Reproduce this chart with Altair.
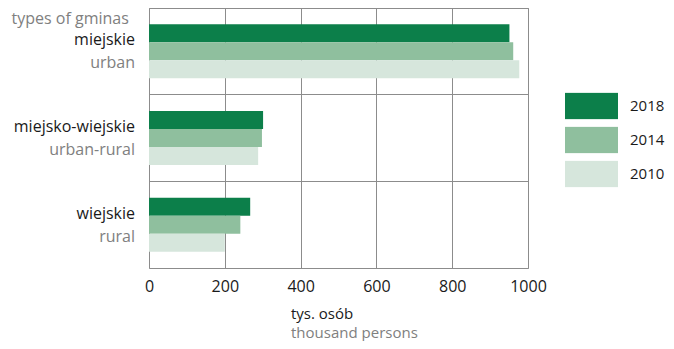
import altair as alt
import pandas as pd

FONT = "Open Sans"
BLACK = "#1a1a1a"
GREY = "#808080"
LINE = "#8c8c8c"

categories_pl = ["miejskie", "miejsko-wiejskie", "wiejskie"]
categories_en = ["urban", "urban-rural", "rural"]
years = ["2018", "2014", "2010"]
values_2018 = [951, 301, 267]
values_2014 = [961, 298, 241]
values_2010 = [977, 288, 200]
colors = ["#0c7f4a", "#8fbf9e", "#d6e6dc"]
x_ticks = [0, 200, 400, 600, 800, 1000]

series = {"2018": values_2018, "2014": values_2014, "2010": values_2010}
rows = []
for yr in years:
    for cat, v in zip(categories_pl, series[yr]):
        rows.append({"category": cat, "year": yr, "value": v})
df = pd.DataFrame(rows)
df_lab = pd.DataFrame({"category": categories_pl, "pl": categories_pl, "en": categories_en})

y_enc = alt.Y(
    "category:N",
    sort=categories_pl,
    scale=alt.Scale(paddingInner=0, paddingOuter=0),
    title="types of gminas",
    axis=alt.Axis(
        labels=False, ticks=False, domain=False, grid=True, bandPosition=0,
        gridColor=LINE, gridOpacity=1, gridWidth=1,
        titleAngle=0, titleAlign="left", titleBaseline="alphabetic",
        titleX=-138, titleY=15, titleFont=FONT, titleFontSize=16,
        titleFontWeight="normal", titleColor=GREY,
    ),
)

bars = alt.Chart(df).mark_bar().encode(
    x=alt.X(
        "value:Q",
        scale=alt.Scale(domain=[0, 1000], nice=False),
        title=None,
        axis=alt.Axis(
            values=x_ticks, format="d", grid=True, gridColor=LINE, gridOpacity=1,
            domain=False, ticks=False, labelFont=FONT, labelFontSize=16,
            labelColor=BLACK, labelPadding=10, labelFlush=False,
        ),
    ),
    y=y_enc,
    yOffset=alt.YOffset("year:N", sort=years, scale=alt.Scale(paddingInner=0, paddingOuter=0.907)),
    color=alt.Color(
        "year:N",
        sort=years,
        scale=alt.Scale(domain=years, range=colors),
        legend=alt.Legend(
            title=None, orient="none", legendX=416, legendY=84.5, padding=0,
            symbolType="M-1,-0.5H1V0.5H-1Z", symbolSize=2809, symbolStrokeWidth=0,
            symbolOpacity=1, labelFont=FONT, labelFontSize=15, labelColor=BLACK,
            labelOffset=12, rowPadding=7, clipHeight=27,
        ),
    ),
)

labels_pl = alt.Chart(df_lab).mark_text(
    align="right", baseline="alphabetic", dy=-6, font=FONT, fontSize=16, color=BLACK
).encode(x=alt.value(-14), y=y_enc, text="pl:N")

labels_en = alt.Chart(df_lab).mark_text(
    align="right", baseline="alphabetic", dy=17, font=FONT, fontSize=16, color=GREY
).encode(x=alt.value(-14), y=y_enc, text="en:N")

chart = alt.layer(bars, labels_pl, labels_en).properties(
    width=379,
    height=260,
    autosize=alt.AutoSizeParams(type="none"),
    padding={"left": 141, "top": 0, "right": 138, "bottom": 73},
    title=alt.TitleParams(
        text="tys. osób", subtitle="thousand persons", orient="bottom", anchor="start",
        frame="group", dx=142, offset=13, font=FONT, fontSize=15, fontWeight="normal",
        color=BLACK, subtitleFont=FONT, subtitleFontSize=15, subtitleColor=GREY,
        subtitlePadding=4,
    ),
).configure_view(stroke=LINE, strokeWidth=1)

chart.save("out.html", embed_options={"renderer": "svg", "actions": False})
